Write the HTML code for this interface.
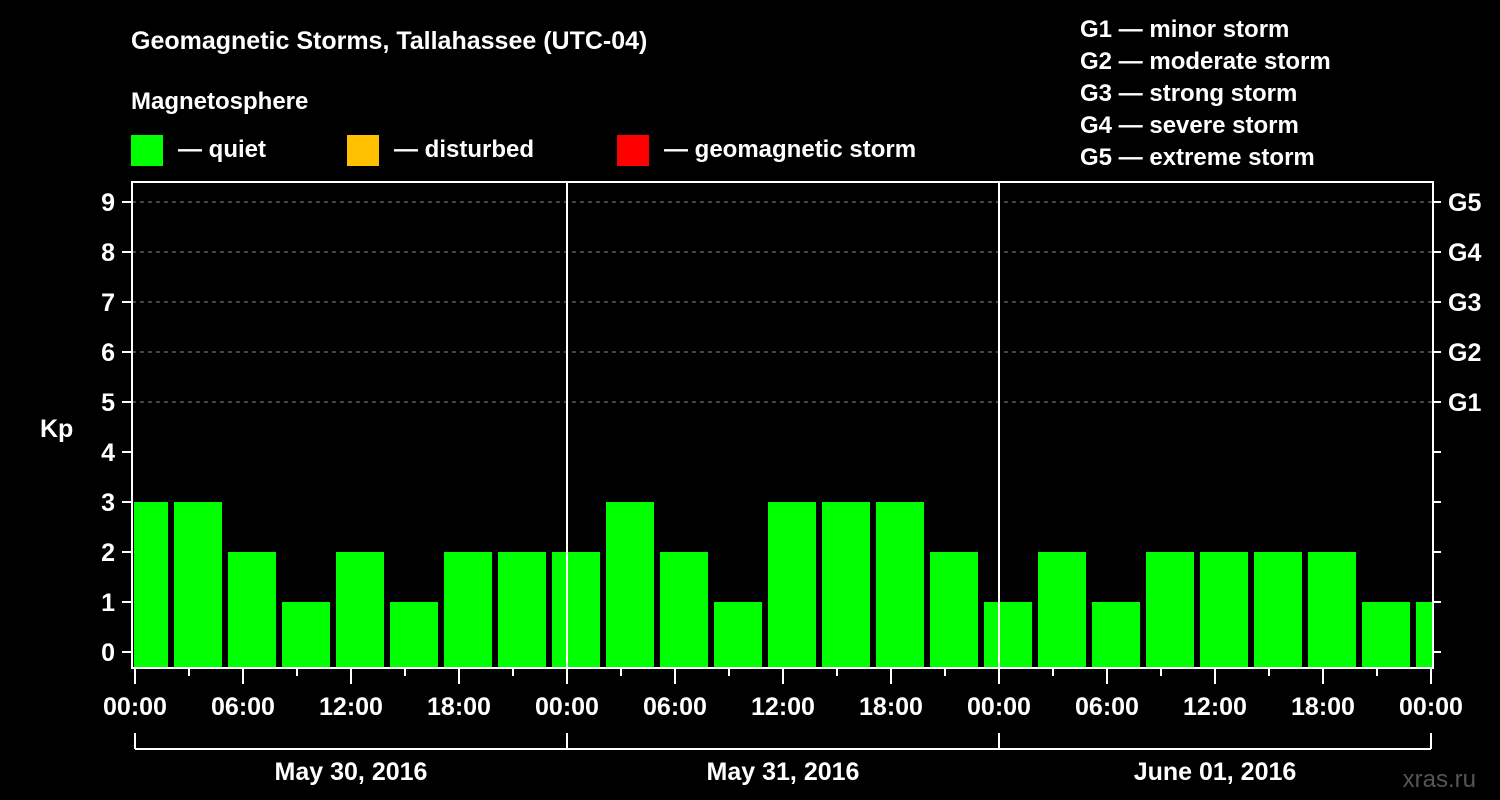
<!DOCTYPE html>
<html><head><meta charset="utf-8"><style>
body{margin:0;background:#000;}
svg{display:block;font-family:"Liberation Sans",Arial,sans-serif;font-weight:bold;}
</style></head><body>
<svg id="c" width="1500" height="800" viewBox="0 0 1500 800">
<rect width="1500" height="800" fill="#000"/>
<text x="131" y="49" fill="#fff" font-size="25">Geomagnetic Storms, Tallahassee (UTC-04)</text>
<text x="131" y="109" fill="#fff" font-size="24">Magnetosphere</text>
<g><rect x="131" y="135" width="32" height="31" fill="#00ff00"/><text x="178" y="157" fill="#fff" font-size="24">— quiet</text></g>
<g><rect x="347" y="135" width="32" height="31" fill="#ffc000"/><text x="394" y="157" fill="#fff" font-size="24">— disturbed</text></g>
<g><rect x="617" y="135" width="32" height="31" fill="#ff0000"/><text x="664" y="157" fill="#fff" font-size="24">— geomagnetic storm</text></g>
<g fill="#fff" font-size="24">
<text x="1080" y="37">G1 — minor storm</text>
<text x="1080" y="69">G2 — moderate storm</text>
<text x="1080" y="101">G3 — strong storm</text>
<text x="1080" y="133">G4 — severe storm</text>
<text x="1080" y="165">G5 — extreme storm</text>
</g>
<text x="40" y="437" fill="#fff" font-size="25">Kp</text>
<text x="1476" y="787" fill="#555" font-size="24" text-anchor="end" font-weight="normal">xras.ru</text>
<g id="plot"></g>
</svg>
<script>
const kpValues=[3,3,2,1,2,1,2,2,2,3,2,1,3,3,3,2,1,2,1,2,2,2,2,1,1];
const yTicks=[0,1,2,3,4,5,6,7,8,9];
const gLabels=["G1","G2","G3","G4","G5"];
const hourLabels=["00:00","06:00","12:00","18:00"];
const dayLabels=["May 30, 2016","May 31, 2016","June 01, 2016"];
const L=132,R=1433,T=182,B=668,X0=135,PXH=18;
const xs=h=>X0+h*PXH;
const ys=v=>652-v*50;
const NS="http://www.w3.org/2000/svg";
const g=document.getElementById('plot');
function mk(t,a,txt){const e=document.createElementNS(NS,t);for(const k in a)e.setAttribute(k,a[k]);if(txt!=null)e.textContent=txt;g.appendChild(e);return e;}
const cp=mk('clipPath',{id:'cl'});cp.appendChild(Object.assign(document.createElementNS(NS,'rect'),{}));
cp.firstChild.setAttribute('x',L+2);cp.firstChild.setAttribute('y',T);cp.firstChild.setAttribute('width',R-L-3);cp.firstChild.setAttribute('height',B-T);
// grid
for(let v=5;v<=9;v++){const e=mk('line',{x1:L,x2:R,y1:ys(v),y2:ys(v),stroke:'#888','stroke-dasharray':'4 4','stroke-width':1});

}
// bars
kpValues.forEach((v,i)=>{const x=xs(-5/6+3*i);const col=v>=5?'#ff0000':(v>=4?'#ffc000':'#00ff00');
const r=mk('rect',{x:x,y:ys(v),width:48*PXH/18*(1),height:B-ys(v),fill:col,'clip-path':'url(#cl)'});

});
// day separators
for(let d=1;d<3;d++){const e=mk('line',{x1:xs(24*d),x2:xs(24*d),y1:T,y2:B,stroke:'#fff','stroke-width':2});

}
// frame
const f=mk('rect',{x:L,y:T,width:R-L,height:B-T,fill:'none',stroke:'#fff','stroke-width':2});


// y ticks
yTicks.forEach(v=>{mk('line',{x1:L-10,x2:L,y1:ys(v),y2:ys(v),stroke:'#fff','stroke-width':2});
mk('line',{x1:R,x2:R+8,y1:ys(v),y2:ys(v),stroke:'#fff','stroke-width':2});
const t=mk('text',{x:115,y:ys(v)+9,fill:'#fff','font-size':25,'text-anchor':'end'},String(v));

});
gLabels.forEach((s,i)=>{const t=mk('text',{x:1448,y:ys(5+i)+9,fill:'#fff','font-size':25},s);

});
// x ticks
for(let h=0;h<=72;h+=3){const long=h%6===0;mk('line',{x1:xs(h),x2:xs(h),y1:B,y2:B+(long?16:8),stroke:'#fff','stroke-width':2});}
for(let h=0;h<=72;h+=6){const t=mk('text',{x:xs(h),y:715,fill:'#fff','font-size':25,'text-anchor':'middle'},hourLabels[(h/6)%4]);

}
mk('line',{x1:xs(0),x2:xs(72),y1:749,y2:749,stroke:'#fff','stroke-width':2});
for(let d=0;d<=3;d++)mk('line',{x1:xs(24*d),x2:xs(24*d),y1:733,y2:749,stroke:'#fff','stroke-width':2});
dayLabels.forEach((s,i)=>{const t=mk('text',{x:xs(24*i+12),y:780,fill:'#fff','font-size':25,'text-anchor':'middle'},s);

});
</script>
</body></html>
